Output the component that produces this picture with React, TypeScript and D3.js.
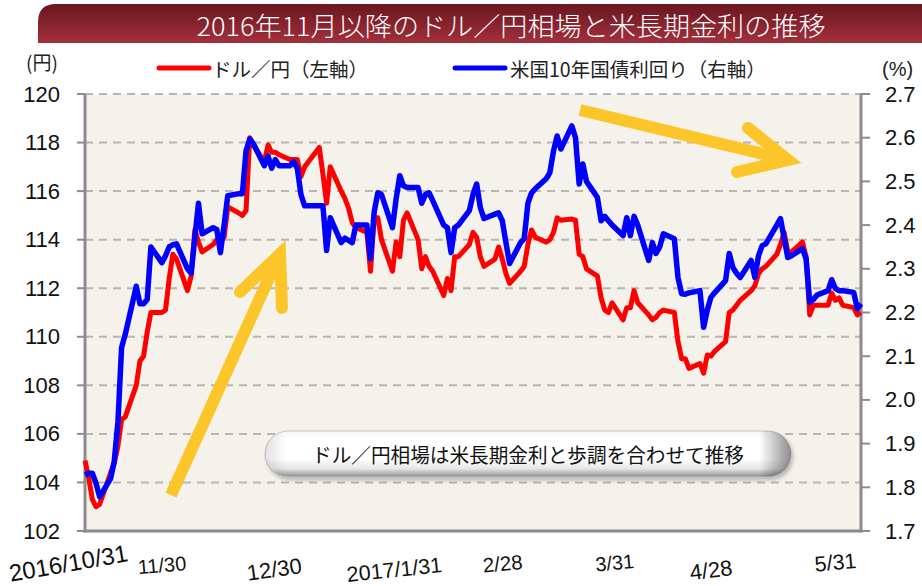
import React from 'react';
import * as d3 from 'd3';

const dates = [
  '2016-10-31','2016-11-01','2016-11-02','2016-11-03','2016-11-04','2016-11-07','2016-11-08','2016-11-09','2016-11-10','2016-11-11',
  '2016-11-14','2016-11-15','2016-11-16','2016-11-17','2016-11-18','2016-11-21','2016-11-22','2016-11-23','2016-11-24','2016-11-25',
  '2016-11-28','2016-11-29','2016-11-30','2016-12-01','2016-12-02','2016-12-05','2016-12-06','2016-12-07','2016-12-08','2016-12-09',
  '2016-12-12','2016-12-13','2016-12-14','2016-12-15','2016-12-16','2016-12-19','2016-12-20','2016-12-21','2016-12-22','2016-12-23',
  '2016-12-26','2016-12-27','2016-12-28','2016-12-29','2016-12-30','2017-01-03','2017-01-04','2017-01-05','2017-01-06','2017-01-09',
  '2017-01-10','2017-01-11','2017-01-12','2017-01-13','2017-01-16','2017-01-17','2017-01-18','2017-01-19','2017-01-20','2017-01-23',
  '2017-01-24','2017-01-25','2017-01-26','2017-01-27','2017-01-30','2017-01-31','2017-02-01','2017-02-02','2017-02-03','2017-02-06',
  '2017-02-07','2017-02-08','2017-02-09','2017-02-10','2017-02-13','2017-02-14','2017-02-15','2017-02-16','2017-02-17','2017-02-20',
  '2017-02-21','2017-02-22','2017-02-23','2017-02-24','2017-02-27','2017-02-28','2017-03-01','2017-03-02','2017-03-03','2017-03-06',
  '2017-03-07','2017-03-08','2017-03-09','2017-03-10','2017-03-13','2017-03-14','2017-03-15','2017-03-16','2017-03-17','2017-03-20',
  '2017-03-21','2017-03-22','2017-03-23','2017-03-24','2017-03-27','2017-03-28','2017-03-29','2017-03-30','2017-03-31','2017-04-03',
  '2017-04-04','2017-04-05','2017-04-06','2017-04-07','2017-04-10','2017-04-11','2017-04-12','2017-04-13','2017-04-14','2017-04-17',
  '2017-04-18','2017-04-19','2017-04-20','2017-04-21','2017-04-24','2017-04-25','2017-04-26','2017-04-27','2017-04-28','2017-05-01',
  '2017-05-02','2017-05-03','2017-05-04','2017-05-05','2017-05-08','2017-05-09','2017-05-10','2017-05-11','2017-05-12','2017-05-15',
  '2017-05-16','2017-05-17','2017-05-18','2017-05-19','2017-05-22','2017-05-23','2017-05-24','2017-05-25','2017-05-26','2017-05-29',
  '2017-05-30','2017-05-31'
];

const usdJpy = [
  104.9,104.2,103.3,103.0,103.1,104.4,104.8,105.5,106.6,106.7,
  108.0,109.0,109.2,110.2,111.0,111.0,111.1,112.4,113.4,113.2,
  111.9,112.5,114.4,113.9,113.5,113.8,114.0,114.0,114.1,115.35,
  115.1,115.0,115.2,118.2,117.9,117.2,117.9,117.6,117.6,117.5,
  117.3,117.3,117.3,116.6,117.0,117.8,116.7,115.5,117.0,116.0,
  115.7,115.3,114.7,114.5,114.3,112.7,114.9,114.9,114.0,112.7,
  113.9,113.3,114.8,115.1,114.0,112.8,113.3,112.9,112.7,111.7,
  112.4,111.9,113.3,113.3,113.8,114.3,114.1,113.3,112.9,113.2,
  113.7,113.2,112.6,112.2,112.7,112.9,113.8,114.4,114.1,113.9,
  114.0,114.3,114.9,114.8,114.85,114.8,113.4,113.3,112.8,112.5,
  111.6,111.1,111.0,111.4,110.7,111.2,111.2,111.9,111.4,110.9,
  110.7,110.8,111.0,111.1,111.0,109.8,109.1,109.1,108.7,108.9,
  108.5,109.25,109.2,109.4,109.8,111.0,111.1,111.3,111.5,111.9,
  112.1,112.6,112.8,112.9,113.4,113.8,114.3,113.5,113.5,113.9,
  113.3,110.9,111.3,111.3,111.3,111.8,111.5,111.6,111.3,111.2,
  110.9,111.0
];

const ust10y = [
  1.828,1.832,1.832,1.81,1.778,1.82,1.86,1.95,2.12,2.15,
  2.26,2.22,2.22,2.23,2.35,2.314,2.33,2.35,2.355,2.357,
  2.30,2.29,2.37,2.45,2.38,2.394,2.39,2.337,2.40,2.467,
  2.472,2.472,2.57,2.597,2.586,2.536,2.558,2.53,2.55,2.536,
  2.536,2.545,2.53,2.47,2.444,2.444,2.444,2.342,2.417,2.36,
  2.37,2.365,2.36,2.40,2.40,2.323,2.43,2.474,2.47,2.394,
  2.46,2.513,2.49,2.486,2.486,2.45,2.47,2.474,2.456,2.40,
  2.394,2.337,2.394,2.40,2.433,2.47,2.494,2.44,2.415,2.425,
  2.428,2.41,2.36,2.312,2.36,2.369,2.45,2.474,2.483,2.506,
  2.52,2.57,2.604,2.574,2.627,2.60,2.494,2.54,2.50,2.463,
  2.41,2.42,2.41,2.40,2.376,2.417,2.376,2.42,2.40,2.319,
  2.36,2.335,2.35,2.38,2.369,2.28,2.243,2.242,2.245,2.25,
  2.166,2.205,2.235,2.245,2.273,2.335,2.303,2.29,2.28,2.319,
  2.28,2.33,2.353,2.357,2.40,2.415,2.37,2.326,2.33,2.346,
  2.323,2.223,2.23,2.24,2.25,2.275,2.255,2.25,2.25,2.246,
  2.209,2.22
];

const yenTicks = [102, 104, 106, 108, 110, 112, 114, 116, 118, 120];
const yieldTicks = [1.7, 1.8, 1.9, 2.0, 2.1, 2.2, 2.3, 2.4, 2.5, 2.6, 2.7];

const xLabels = [
  { date: '2016-10-31', text: '2016/10/31', dx: 44, y: 561, rot: -10, size: 24 },
  { date: '2016-11-30', text: '11/30', dx: -8, y: 570, rot: -5, size: 20 },
  { date: '2016-12-30', text: '12/30', dx: -2, y: 573, rot: -8, size: 22 },
  { date: '2017-01-31', text: '2017/1/31', dx: 21, y: 572, rot: -6, size: 21.5 },
  { date: '2017-02-28', text: '2/28', dx: -1, y: 569, rot: -5, size: 20.5 },
  { date: '2017-03-31', text: '3/31', dx: -3, y: 568, rot: -5, size: 20 },
  { date: '2017-04-28', text: '4/28', dx: -7, y: 575, rot: -7, size: 22 },
  { date: '2017-05-31', text: '5/31', dx: -4, y: 568, rot: -5, size: 21.5 },
];

const titleText = '2016年11月以降のドル／円相場と米長期金利の推移';
const legendRed = 'ドル／円（左軸）';
const legendBlue = '米国10年国債利回り（右軸）';
const noteText = 'ドル／円相場は米長期金利と歩調を合わせて推移';

const CJK = '"Noto Sans CJK JP", "Noto Sans", sans-serif';
const NUM = '"Liberation Sans", Arial, sans-serif';

export default function App() {
  const parse = d3.timeParse('%Y-%m-%d');
  const L = 85, R = 861, T = 94, B = 531;
  const x = d3.scaleTime().domain([parse('2016-10-31')!, parse('2017-05-31')!]).range([L, R]);
  const yL = d3.scaleLinear().domain([102, 120]).range([B, T]);
  const yR = d3.scaleLinear().domain([1.7, 2.7]).range([B, T]);
  const pts = dates.map((d) => parse(d)!);

  const redPath = d3.line<number>().x((_, i) => x(pts[i])).y((d) => yL(d))(usdJpy) || '';
  const bluePath = d3.line<number>().x((_, i) => x(pts[i])).y((d) => yR(d))(ust10y) || '';

  const arrowColor = '#fcc62a';

  return (
    <svg width={922} height={586} style={{ position: 'absolute', left: 0, top: 0, background: '#fff' }}>
      <defs>
        <linearGradient id="titleGrad" x1="0" y1="0" x2="0" y2="1">
          <stop offset="0" stopColor="#6a1620" />
          <stop offset="1" stopColor="#a3303b" />
        </linearGradient>
        <linearGradient id="boxGrad" x1="0" y1="0" x2="0" y2="1">
          <stop offset="0" stopColor="#f4f4f4" />
          <stop offset="0.15" stopColor="#ffffff" />
          <stop offset="0.6" stopColor="#ffffff" />
          <stop offset="0.82" stopColor="#e6e6e6" />
          <stop offset="1" stopColor="#8a8a8a" />
        </linearGradient>
        <linearGradient id="boxSide" x1="0" y1="0" x2="1" y2="0">
          <stop offset="0" stopColor="#000" stopOpacity="0.12" />
          <stop offset="0.04" stopColor="#000" stopOpacity="0" />
          <stop offset="0.94" stopColor="#000" stopOpacity="0" />
          <stop offset="1" stopColor="#000" stopOpacity="0.45" />
        </linearGradient>
        <filter id="shadow" x="-5%" y="-30%" width="110%" height="160%">
          <feGaussianBlur stdDeviation="2" />
        </filter>
      </defs>

      {/* Title bar */}
      <path d="M38,43 L38,22 Q38,4 56,4 L922,4 L922,43 Z" fill="url(#titleGrad)" />
      <text x={511} y={24} fill="#fff" fontFamily={CJK} fontSize={26} fontWeight={300} textAnchor="middle"
        dominantBaseline="central" textLength={629} lengthAdjust="spacingAndGlyphs">{titleText}</text>

      {/* Legend */}
      <text x={26} y={61} fontFamily={CJK} fontSize={19} dominantBaseline="central" fill="#222">(円)</text>
      <line x1={159} x2={209} y1={68} y2={68} stroke="#ff0000" strokeWidth={5} strokeLinecap="round" />
      <text x={212} y={68} fontFamily={CJK} fontSize={19.5} dominantBaseline="central" fill="#222">{legendRed}</text>
      <line x1={455} x2={505} y1={68} y2={68} stroke="#0000ff" strokeWidth={5} strokeLinecap="round" />
      <text x={510} y={68} fontFamily={CJK} fontSize={19.5} dominantBaseline="central" fill="#222">{legendBlue}</text>
      <text x={882} y={69} fontFamily={NUM} fontSize={20} dominantBaseline="central" fill="#222">(%)</text>

      {/* Plot background */}
      <rect x={L} y={T} width={R - L} height={B - T} fill="#f5f1eb" />

      {/* Gridlines */}
      {yenTicks.filter((t) => t !== 102).map((t) => (
        <line key={'g' + t} x1={L} x2={R} y1={yL(t)} y2={yL(t)} stroke="#b9b6b2" strokeWidth={2} strokeDasharray="8,6" />
      ))}

      {/* Left axis */}
      <line x1={L} x2={L} y1={T} y2={B + 1.5} stroke="#8c8c8c" strokeWidth={3} />
      {yenTicks.map((t) => (
        <g key={'l' + t}>
          <line x1={L - 8} x2={L} y1={yL(t)} y2={yL(t)} stroke="#8c8c8c" strokeWidth={2} />
          <text x={60} y={yL(t)} fontFamily={NUM} fontSize={22} textAnchor="end" dominantBaseline="central" fill="#111">{t}</text>
        </g>
      ))}

      {/* Right axis */}
      <line x1={R} x2={R} y1={T} y2={B + 1.5} stroke="#8c8c8c" strokeWidth={3} />
      {yieldTicks.map((t) => (
        <g key={'r' + t}>
          <line x1={R} x2={R + 9} y1={yR(t)} y2={yR(t)} stroke="#8c8c8c" strokeWidth={2} />
          <text x={885} y={yR(t)} fontFamily={NUM} fontSize={22} dominantBaseline="central" fill="#111">{t.toFixed(1)}</text>
        </g>
      ))}

      {/* Bottom axis */}
      <line x1={L - 1.5} x2={R + 1.5} y1={B} y2={B} stroke="#8c8c8c" strokeWidth={3} />

      {/* X labels */}
      {xLabels.map((lb) => {
        const ax = x(parse(lb.date)!) + lb.dx;
        return (
          <text key={lb.text} x={ax} y={lb.y} fontFamily={NUM} fontSize={lb.size} textAnchor="end"
            transform={`rotate(${lb.rot},${ax},${lb.y})`} fill="#111">{lb.text}</text>
        );
      })}

      {/* Series */}
      <path d={redPath} fill="none" stroke="#ff0000" strokeWidth={5} strokeLinejoin="round" />
      <path d={bluePath} fill="none" stroke="#0000ff" strokeWidth={5.5} strokeLinejoin="round" />

      {/* Arrows */}
      <g stroke={arrowColor} strokeWidth={12} fill="none">
        <line x1={171} y1={495} x2={278} y2={258} strokeLinecap="butt" />
        <path d="M240,292 L280,254 L282,308" strokeLinecap="round" strokeLinejoin="miter" />
        <line x1={580} y1={110} x2={784} y2={159} strokeLinecap="butt" />
        <path d="M748,128 L788,160 L737,172" strokeLinecap="round" strokeLinejoin="miter" />
      </g>

      {/* Note box */}
      <rect x={267} y={434} width={526} height={46} rx={23} fill="#777" opacity={0.5} filter="url(#shadow)" />
      <rect x={265} y={431} width={526} height={46} rx={23} fill="url(#boxGrad)" stroke="#c8c8c8" strokeWidth={1} />
      <rect x={265} y={431} width={526} height={46} rx={23} fill="url(#boxSide)" />
      <text x={528} y={454} fontFamily={CJK} fontSize={20} textAnchor="middle" dominantBaseline="central"
        textLength={432} lengthAdjust="spacingAndGlyphs" fill="#111">{noteText}</text>
    </svg>
  );
}
